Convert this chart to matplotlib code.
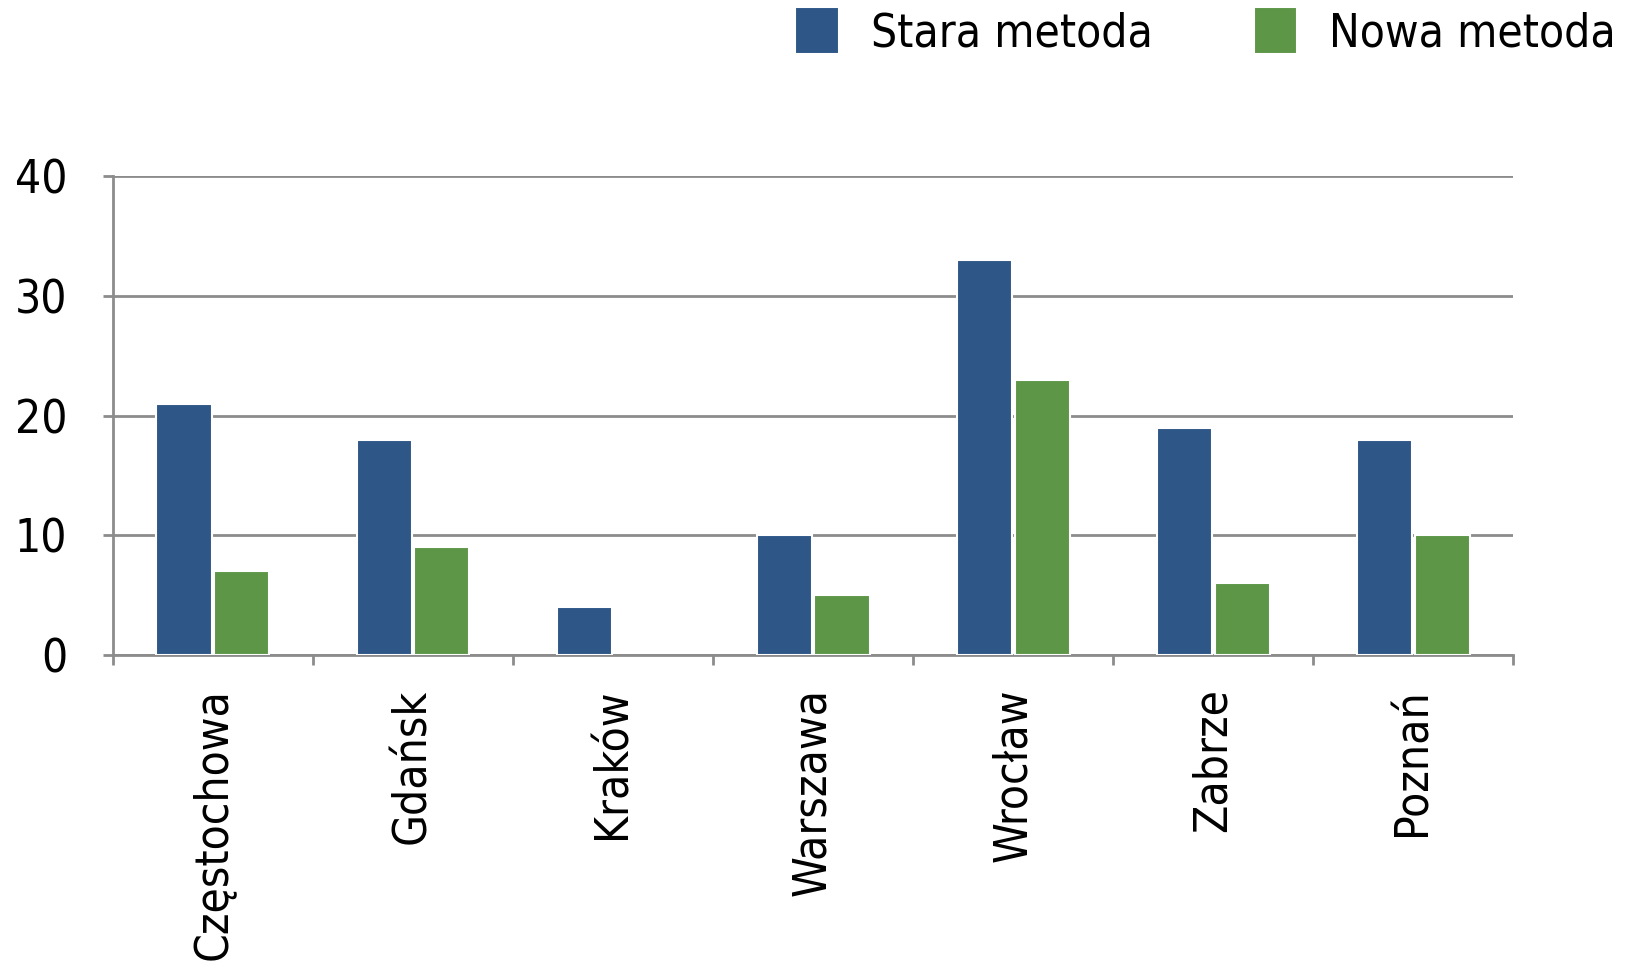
import numpy as np
import matplotlib.pyplot as plt
import matplotlib.patheffects as pe

# dane z wykresu
miasta = ["Częstochowa", "Gdańsk", "Kraków", "Warszawa", "Wrocław", "Zabrze", "Poznań"]
stara = [21, 18, 4, 10, 33, 19, 18]
nowa = [7, 9, 0, 5, 23, 6, 10]
y_ticks = [0, 10, 20, 30, 40]

plt.rcParams['font.family'] = ['DejaVu Sans']
plt.rcParams['font.stretch'] = 'condensed'

fig = plt.figure(figsize=(16.36, 9.69), dpi=100)
ax = fig.add_axes([0.069, 0.324, 0.856, 0.494])

x = np.arange(len(miasta))
w = 0.275
shadow = [pe.SimplePatchShadow(offset=(0, -2.5), shadow_rgbFace='#999999', alpha=0.5), pe.Normal()]

b1 = ax.bar(x - w / 2 - 0.007, stara, w, color='#2e5687', edgecolor='white', linewidth=1.5,
            label='Stara metoda', zorder=3)
b2 = ax.bar(x + w / 2 + 0.007, [v if v > 0 else np.nan for v in nowa], w, color='#5e9648',
            edgecolor='white', linewidth=1.5, label='Nowa metoda', zorder=3)
for bar in list(b1) + list(b2):
    bar.set_path_effects(shadow)

ax.set_xlim(-0.5, len(miasta) - 0.5)
ax.set_ylim(0, 40)
ax.set_yticks(y_ticks)
ax.set_xticks(x)
ax.set_xticklabels(miasta, rotation=90, fontsize=33)
ax.set_xticks(np.arange(len(miasta) + 1) - 0.5, minor=True)
ax.tick_params(axis='x', which='major', length=0, pad=24)
ax.tick_params(axis='x', which='minor', length=7, width=2, color='#8c8c8c', direction='out')
ax.tick_params(axis='y', length=7, width=2, color='#8c8c8c', labelsize=33, pad=26)

ax.yaxis.grid(True, color='#8c8c8c', linewidth=2)
ax.set_axisbelow(True)
ax.spines['top'].set_visible(False)
ax.spines['right'].set_visible(False)
ax.spines['left'].set_color('#8c8c8c')
ax.spines['left'].set_linewidth(2)
ax.spines['bottom'].set_color('#8c8c8c')
ax.spines['bottom'].set_linewidth(2)

leg = fig.legend(handles=[b1, b2], loc='upper right', bbox_to_anchor=(1.013, 1.035), ncol=2,
                 frameon=False, fontsize=33, handlelength=0.95, handleheight=1.2,
                 columnspacing=2.2, handletextpad=0.7)
for h in leg.legend_handles:
    h.set_path_effects([])

fig.savefig('out.png', dpi=100)
